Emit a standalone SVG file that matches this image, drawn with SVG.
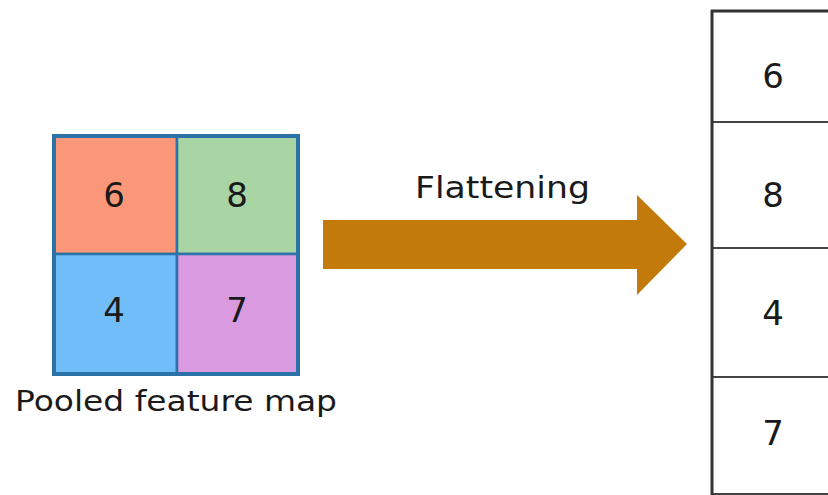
<svg xmlns="http://www.w3.org/2000/svg" width="828" height="495" viewBox="0 0 828 495">
<style>
.t{font-family:"DejaVu Sans","Liberation Sans",sans-serif;fill:#1a1a1a}
.d{font-size:34px;text-anchor:middle}
.cell{stroke:#2b72a8;stroke-width:2.5}
.row{fill:#ffffff;stroke:#444;stroke-width:2}
</style>
<rect width="828" height="495" fill="#ffffff"/>
<g id="pooled-map">
<rect class="cell" x="54" y="136" width="123" height="118" fill="#fa9779"/>
<rect class="cell" x="177" y="136" width="121" height="118" fill="#a9d4a3"/>
<rect class="cell" x="54" y="254" width="123" height="120" fill="#71bdf9"/>
<rect class="cell" x="177" y="254" width="121" height="120" fill="#d99ae0"/>
<rect x="54" y="136" width="244" height="238" fill="none" stroke="#2b72a8" stroke-width="4"/>
<text class="t d" x="114" y="207">6</text>
<text class="t d" x="237" y="207">8</text>
<text class="t d" x="114" y="322">4</text>
<text class="t d" x="237" y="322">7</text>
<text class="t" x="15" y="411" font-size="28" textLength="322" lengthAdjust="spacingAndGlyphs">Pooled feature map</text>
</g>
<g id="connectors">
<polygon points="323,220 637,220 637,195 687,244 637,295 637,269 323,269" fill="#c27b0a"/>
<text class="t" x="415" y="198" font-size="30" textLength="175" lengthAdjust="spacingAndGlyphs">Flattening</text>
</g>
<g id="flattened">
<rect class="row" x="712" y="11" width="130" height="111"/>
<rect class="row" x="712" y="122" width="130" height="126"/>
<rect class="row" x="712" y="248" width="130" height="129"/>
<rect class="row" x="712" y="377" width="130" height="117"/>
<line x1="712" y1="10" x2="712" y2="495" stroke="#333" stroke-width="3"/>
<line x1="711" y1="11" x2="828" y2="11" stroke="#333" stroke-width="3"/>
<text class="t d" x="773" y="88">6</text>
<text class="t d" x="773" y="207">8</text>
<text class="t d" x="773" y="325">4</text>
<text class="t d" x="773" y="445">7</text>
</g>
</svg>
